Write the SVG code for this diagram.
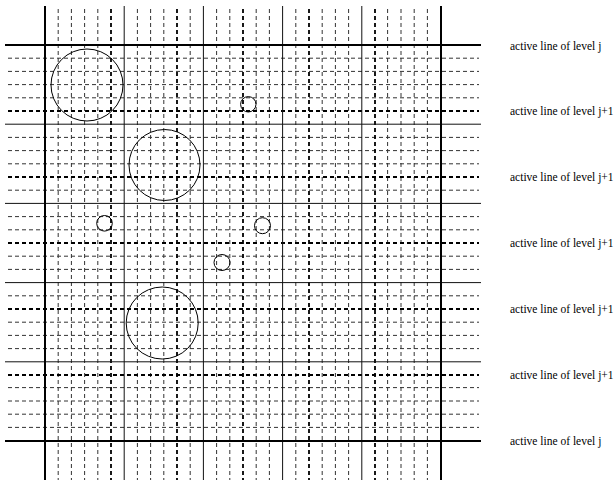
<svg xmlns="http://www.w3.org/2000/svg" width="616" height="483" viewBox="0 0 616 483">
<style>
.bg{fill:#fff}
.fine{stroke:#333;stroke-width:1;stroke-dasharray:4 3;fill:none}
.half{stroke:#000;stroke-width:1.8;stroke-dasharray:4 3;fill:none}
.solid{stroke:#111;stroke-width:1;fill:none}
.bold{stroke:#000;stroke-width:2;fill:none}
.circ{stroke:#000;stroke-width:1;fill:none}
.lab{font-family:"Liberation Serif","Times New Roman",serif;font-size:11.5px;fill:#000}
</style>
<rect class="bg" x="0" y="0" width="616" height="483"/>
<g id="fine-lines">
<path class="fine" d="M58.2,9V480M71.4,9V480M84.6,9V480M97.8,9V480M137.4,9V480M150.6,9V480M163.8,9V480M190.2,9V480M216.6,9V480M229.8,9V480M256.2,9V480M269.4,9V480M295.8,9V480M322.2,9V480M335.4,9V480M348.6,9V480M387.6,9V480M401,9V480M414.2,9V480M427.4,9V480"/>
<path class="fine" d="M8,58.2H479M8,71.4H479M8,84.6H479M8,97.8H479M8,137.4H479M8,150.6H479M8,163.8H479M8,190.2H479M8,216.6H479M8,229.8H479M8,256.2H479M8,269.4H479M8,295.8H479M8,322.2H479M8,335.4H479M8,348.6H479M8,387.6H479M8,401H479M8,414.2H479M8,427.4H479"/>
</g>
<g id="level-j1-lines">
<path class="half" d="M111,9V480M177,9V480M243,9V480M309,9V480M375,9V480"/>
<path class="half" d="M8,111H479M8,177H479M8,243H479M8,309H479M8,375H479"/>
</g>
<g id="level-j-lines">
<path class="solid" d="M124.2,6V480M203.4,6V480M282.6,6V480M361.8,6V480"/>
<path class="solid" d="M5,124.2H481M5,203.4H481M5,282.6H481M5,361.8H481"/>
<path class="bold" d="M45,6V480M441,6V480M5,45H481M5,441H481"/>
</g>
<g id="circles">
<circle id="c1" class="circ" cx="87" cy="85" r="36"/>
<circle id="c2" class="circ" cx="248.3" cy="104.3" r="7.7"/>
<circle id="c3" class="circ" cx="164.5" cy="165" r="35.5"/>
<circle id="c4" class="circ" cx="104.5" cy="223.3" r="7.8"/>
<circle id="c5" class="circ" cx="262.5" cy="225.7" r="8"/>
<circle id="c6" class="circ" cx="222" cy="262.5" r="8"/>
<circle id="c7" class="circ" cx="162.2" cy="323" r="36"/>
</g>
<g id="labels">
<text class="lab" x="510" y="50">active line of level j</text>
<text class="lab" x="510" y="115">active line of level j+1</text>
<text class="lab" x="510" y="181">active line of level j+1</text>
<text class="lab" x="510" y="247">active line of level j+1</text>
<text class="lab" x="510" y="313">active line of level j+1</text>
<text class="lab" x="510" y="379">active line of level j+1</text>
<text class="lab" x="510" y="445">active line of level j</text>
</g>
</svg>
